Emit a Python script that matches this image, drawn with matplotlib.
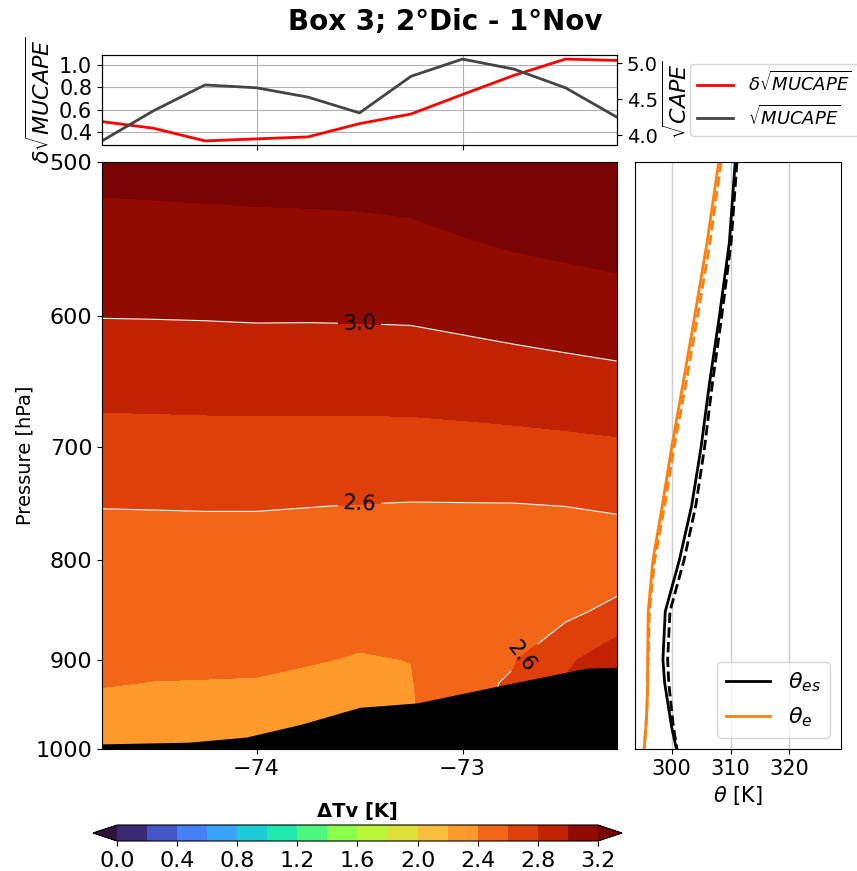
import numpy as np
import matplotlib
matplotlib.use("Agg")
import matplotlib.pyplot as plt
from matplotlib.ticker import FixedLocator, FixedFormatter, NullLocator

# ---------------- data ----------------
lon = [-74.75, -74.5, -74.25, -74.0, -73.75, -73.5, -73.25, -73.0, -72.75, -72.5, -72.25]
plev = [500, 550, 600, 650, 700, 750, 800, 850, 900, 925, 950, 975, 1000]

# Virtual temperature difference (K) on each pressure level, west -> east
dtv_500 = [3.252, 3.258, 3.264, 3.269, 3.273, 3.279, 3.293, 3.335, 3.372, 3.38, 3.39]
dtv_550 = [3.128, 3.132, 3.136, 3.141, 3.143, 3.147, 3.156, 3.188, 3.218, 3.240, 3.263]
dtv_600 = [3.004, 3.006, 3.009, 3.014, 3.013, 3.015, 3.019, 3.041, 3.065, 3.086, 3.106]
dtv_650 = [2.857, 2.860, 2.863, 2.866, 2.867, 2.868, 2.872, 2.886, 2.903, 2.923, 2.943]
dtv_700 = [2.727, 2.729, 2.732, 2.733, 2.731, 2.729, 2.729, 2.735, 2.743, 2.755, 2.771]
dtv_750 = [2.607, 2.609, 2.612, 2.612, 2.605, 2.597, 2.592, 2.593, 2.594, 2.603, 2.624]
dtv_800 = [2.49, 2.50, 2.50, 2.50, 2.48, 2.50, 2.50, 2.52, 2.50, 2.453, 2.474]
dtv_850 = [2.46, 2.46, 2.46, 2.46, 2.45, 2.45, 2.45, 2.50, 2.52, 2.555, 2.654]
dtv_900 = [2.42, 2.42, 2.425, 2.43, 2.41, 2.39, 2.402, 2.52, 2.59, 2.76, 2.935]
dtv_925 = [2.405, 2.398, 2.395, 2.39, 2.37, 2.36, 2.39, 2.557, 2.618, 2.82, 2.96]
dtv_950 = [2.38, 2.37, 2.37, 2.36, 2.34, 2.34, 2.385, 2.54, 2.64, 2.85, 2.98]
dtv_975 = [2.35, 2.34, 2.34, 2.34, 2.32, 2.32, 2.37, 2.52, 2.66, 2.87, 2.99]
dtv_1000 = [2.33, 2.32, 2.32, 2.32, 2.30, 2.30, 2.35, 2.50, 2.68, 2.90, 3.00]

# Surface pressure along the section (hPa)
terrain_lon = [-74.75, -74.33, -74.05, -73.78, -73.50, -73.22, -72.82, -72.40, -72.25]
terrain_p = [994, 992, 986, 971, 952, 947, 928, 909, 908]

# Top panel series
d_sqrt_mucape = [0.492, 0.433, 0.320, 0.338, 0.356, 0.474, 0.560, 0.734, 0.905, 1.050, 1.038]
sqrt_mucape = [3.92, 4.34, 4.70, 4.66, 4.53, 4.31, 4.82, 5.06, 4.92, 4.66, 4.25]

# Box-mean profiles (K): solid and dashed
theta_es = [310.8, 309.8, 308.1, 306.4, 305.0, 303.4, 301.3, 298.9, 298.5, 298.8, 299.4, 300.0, 300.8]
theta_es_2 = [311.1, 310.1, 308.5, 306.9, 305.6, 304.1, 302.1, 299.7, 299.3, 299.5, 299.9, 300.3, 300.9]
theta_e = [308.0, 306.0, 303.9, 301.9, 300.0, 298.4, 296.8, 296.0, 295.9, 295.9, 295.8, 295.6, 295.3]
theta_e_2 = [308.4, 306.5, 304.4, 302.4, 300.4, 298.8, 297.1, 296.2, 296.0, 295.9, 295.8, 295.6, 295.3]

cbar_ticks = [0.0, 0.4, 0.8, 1.2, 1.6, 2.0, 2.4, 2.8, 3.2]
p_ticks = [500, 600, 700, 800, 900, 1000]
lon_ticks = [-74, -73]
theta_ticks = [300, 310, 320]

# ---------------- figure ----------------
W, H = 857, 871
fig = plt.figure(figsize=(W / 100, H / 100), dpi=100)


def box(l, t, r, b):
    return [l / W, 1 - b / H, (r - l) / W, (b - t) / H]


ax = fig.add_axes(box(102, 162, 617, 749))
ax_top = fig.add_axes(box(102, 55, 617, 145))
ax_r = fig.add_axes(box(635, 162, 841, 749), sharey=ax)
cax = fig.add_axes(box(93, 825, 622, 841))

dtv = np.array([dtv_500, dtv_550, dtv_600, dtv_650, dtv_700, dtv_750, dtv_800,
                dtv_850, dtv_900, dtv_925, dtv_950, dtv_975, dtv_1000])
levels = np.round(np.arange(0, 3.21, 0.2), 2)

cf = ax.contourf(lon, plev, dtv, levels=levels, cmap="turbo", extend="both")
cs = ax.contour(lon, plev, dtv, levels=[2.2, 2.6, 3.0], colors="white", linewidths=0.8)
ax.fill_between(terrain_lon, terrain_p, 1000, color="black", zorder=3, lw=0)
ax.clabel(cs, fmt="%.1f", fontsize=15, colors="k", inline=True,
          manual=[(-73.5, 605), (-73.5, 748), (-72.72, 895)])

ax.set_yscale("log")
ax.set_ylim(1000, 500)
ax.set_xlim(-74.75, -72.25)
ax.yaxis.set_major_locator(FixedLocator(p_ticks))
ax.yaxis.set_major_formatter(FixedFormatter([str(p) for p in p_ticks]))
ax.yaxis.set_minor_locator(NullLocator())
ax.set_xticks(lon_ticks)
ax.tick_params(labelsize=16)
ax.set_ylabel("Pressure [hPa]", fontsize=14, labelpad=1)

# Top panel
ax_top.plot(lon, d_sqrt_mucape, color="red", lw=2, label=r"$\delta\sqrt{MUCAPE}$")
ax_top2 = ax_top.twinx()
ax_top2.plot(lon, sqrt_mucape, color="#444444", lw=2, label=r"$\sqrt{MUCAPE}$")
ax_top.set_xlim(-74.75, -72.25)
ax_top.set_xticks(lon_ticks)
ax_top.tick_params(labelbottom=False, labelsize=15)
ax_top.set_yticks([0.4, 0.6, 0.8, 1.0])
ax_top2.set_yticks([4.0, 4.5, 5.0])
ax_top2.tick_params(labelsize=14)
ax_top.grid(True)
ax_top.set_ylabel(r"$\delta\sqrt{MUCAPE}$", fontsize=16)
ax_top2.set_ylabel(r"$\sqrt{CAPE}$", fontsize=16, labelpad=3)
h1, l1 = ax_top.get_legend_handles_labels()
h2, l2 = ax_top2.get_legend_handles_labels()
fig.legend(h1 + h2, l1 + l2, loc="upper left", bbox_to_anchor=(690 / W, 1 - 64 / H),
           bbox_transform=fig.transFigure, borderaxespad=0, fontsize=13)

# Right panel: profiles
ax_r.plot(theta_es, plev, color="black", lw=2, label=r"$\theta_{es}$")
ax_r.plot(theta_es_2, plev, color="black", lw=2, ls="--")
ax_r.plot(theta_e, plev, color="#ff7f0e", lw=2, label=r"$\theta_e$")
ax_r.plot(theta_e_2, plev, color="#ff7f0e", lw=2, ls="--")
ax_r.set_xlim(293.75, 328.8)
ax_r.set_xticks(theta_ticks)
ax_r.grid(True, axis="x", color="0.8", lw=1)
ax_r.tick_params(axis="y", left=False, labelleft=False)
ax_r.tick_params(axis="x", labelsize=15)
ax_r.set_xlabel(r"$\theta$ [K]", fontsize=15)
ax_r.legend(loc="lower right", fontsize=16)

# Colorbar
cb = fig.colorbar(cf, cax=cax, orientation="horizontal", ticks=cbar_ticks, format="%.1f")
cb.ax.tick_params(labelsize=16)
cb.ax.set_title(r"ΔTv [K]", fontsize=14, fontweight="bold")

fig.text(445 / W, 1 - 22 / H, "Box 3; 2°Dic - 1°Nov", fontsize=20, fontweight="bold",
         ha="center", va="center")

fig.savefig("out.png", dpi=100)
